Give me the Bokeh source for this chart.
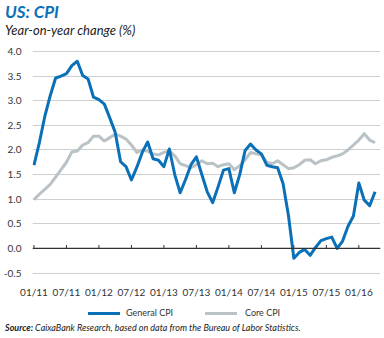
from bokeh.plotting import figure
from bokeh.layouts import column
from bokeh.models import (Range1d, FixedTicker, Span, Div,
                          ColumnDataSource, NumeralTickFormatter)
from bokeh.embed import file_html
from bokeh.resources import INLINE

# Monthly data, Jan 2011 .. Apr 2016 (year-on-year change, %)
general_cpi = [1.69, 2.15, 2.68, 3.10, 3.46, 3.50, 3.55, 3.71, 3.80, 3.51, 3.44, 3.07,
               3.02, 2.93, 2.65, 2.36, 1.76, 1.66, 1.39, 1.65, 1.95, 2.16, 1.82, 1.79,
               1.66, 2.02, 1.50, 1.13, 1.40, 1.70, 1.86, 1.50, 1.15, 0.93, 1.25, 1.59,
               1.62, 1.13, 1.50, 1.99, 2.12, 2.00, 1.92, 1.69, 1.66, 1.64, 1.32, 0.67,
               -0.20, -0.08, -0.02, -0.14, 0.02, 0.16, 0.20, 0.23, 0.00, 0.15, 0.45, 0.66,
               1.33, 0.98, 0.87, 1.15]
core_cpi = [0.99, 1.10, 1.20, 1.30, 1.45, 1.60, 1.75, 1.96, 1.98, 2.10, 2.15, 2.28,
            2.28, 2.18, 2.25, 2.32, 2.28, 2.22, 2.10, 1.95, 2.00, 1.97, 1.92, 1.90,
            1.95, 1.98, 1.88, 1.72, 1.68, 1.64, 1.70, 1.78, 1.72, 1.73, 1.66, 1.70,
            1.72, 1.60, 1.68, 1.80, 1.95, 1.92, 1.90, 1.75, 1.72, 1.78, 1.70, 1.62,
            1.64, 1.70, 1.79, 1.80, 1.72, 1.78, 1.80, 1.85, 1.88, 1.92, 2.00, 2.10,
            2.20, 2.33, 2.20, 2.15]
tick_labels = ["01/11", "07/11", "01/12", "07/12", "01/13", "07/13",
               "01/14", "07/14", "01/15", "07/15", "01/16"]
y_ticks = [-0.5, 0.0, 0.5, 1.0, 1.5, 2.0, 2.5, 3.0, 3.5, 4.0]
series_names = ["General CPI", "Core CPI"]

BLUE = "#0a70b8"
GREY = "#b9c2c6"
FONT = "Lato"

months = list(range(len(general_cpi)))
tick_pos = [6 * i for i in range(len(tick_labels))]

src = ColumnDataSource(dict(x=months, g=general_cpi, c=core_cpi))

header = Div(text=(f'<div style="font-size:17px;font-weight:bold;font-style:italic;'
                   f'color:{BLUE};line-height:20px;padding-top:2px;">US: CPI</div>'
                   '<div style="font-size:13px;font-style:italic;color:#222222;'
                   'line-height:16px;">Year-on-year change (%)</div>'),
             width=379, height=45, margin=(0, 0, 0, 5),
             styles={"font-family": FONT})

p = figure(width=384, height=255, output_backend="svg", toolbar_location=None,
           x_range=Range1d(-0.27, 64.0), y_range=Range1d(-0.61, 4.12),
           min_border_left=25, min_border_right=4, min_border_top=0,
           min_border_bottom=18)
p.outline_line_color = None
p.background_fill_color = "white"
p.border_fill_color = "white"

# grid
p.xgrid.grid_line_color = None
p.ygrid.ticker = FixedTicker(ticks=y_ticks)
p.ygrid.grid_line_color = "#cfcfcf"
p.ygrid.grid_line_width = 1

# y axis
p.yaxis.ticker = FixedTicker(ticks=y_ticks)
p.yaxis.formatter = NumeralTickFormatter(format="0.0")
p.yaxis.axis_line_color = None
p.yaxis.major_tick_line_color = None
p.yaxis.minor_tick_line_color = None
p.yaxis.major_label_standoff = 5
p.yaxis.major_label_text_font = FONT
p.yaxis.major_label_text_font_size = "10px"
p.yaxis.major_label_text_color = "#333333"

# x axis (labels at bottom)
p.xaxis.ticker = FixedTicker(ticks=tick_pos)
p.xaxis.major_label_overrides = {t: l for t, l in zip(tick_pos, tick_labels)}
p.xaxis.axis_line_color = None
p.xaxis.major_tick_line_color = None
p.xaxis.minor_tick_line_color = None
p.xaxis.major_label_standoff = 1
p.xaxis.major_label_text_font = FONT
p.xaxis.major_label_text_font_size = "10px"
p.xaxis.major_label_text_color = "#333333"

# zero line with small ticks
p.add_layout(Span(location=0, dimension="width", line_color="#333333", line_width=1.2))
p.segment(x0=tick_pos, x1=tick_pos, y0=[0] * len(tick_pos), y1=[0.07] * len(tick_pos),
          line_color="#333333", line_width=1)

p.line("x", "c", source=src, line_color=GREY, line_width=3, line_join="round")
p.line("x", "g", source=src, line_color=BLUE, line_width=3, line_join="round")

legend_html = (
    '<div style="position:relative;width:384px;height:21px;">'
    f'<span style="position:absolute;left:88px;top:12px;width:32px;height:3px;'
    f'background:{BLUE};"></span>'
    '<span style="position:absolute;left:126px;top:7px;line-height:12px;">'
    f'{series_names[0]}</span>'
    f'<span style="position:absolute;left:205px;top:12px;width:32px;height:3px;'
    f'background:{GREY};"></span>'
    '<span style="position:absolute;left:245px;top:7px;line-height:12px;">'
    f'{series_names[1]}</span></div>'
)
legend = Div(text=legend_html, width=384, height=21, margin=(0, 0, 0, 0),
             styles={"font-family": FONT, "font-size": "9px", "color": "#333333"})

source = Div(text="<i><b>Source:</b> CaixaBank Research, based on data from the "
                  "Bureau of Labor Statistics.</i>",
             width=379, height=17, margin=(0, 0, 0, 5),
             styles={"font-family": FONT, "font-size": "9px", "color": "#222222",
                     "line-height": "14px"})

open("out.html", "w").write(
    file_html(column(header, p, legend, source, spacing=0), INLINE))
